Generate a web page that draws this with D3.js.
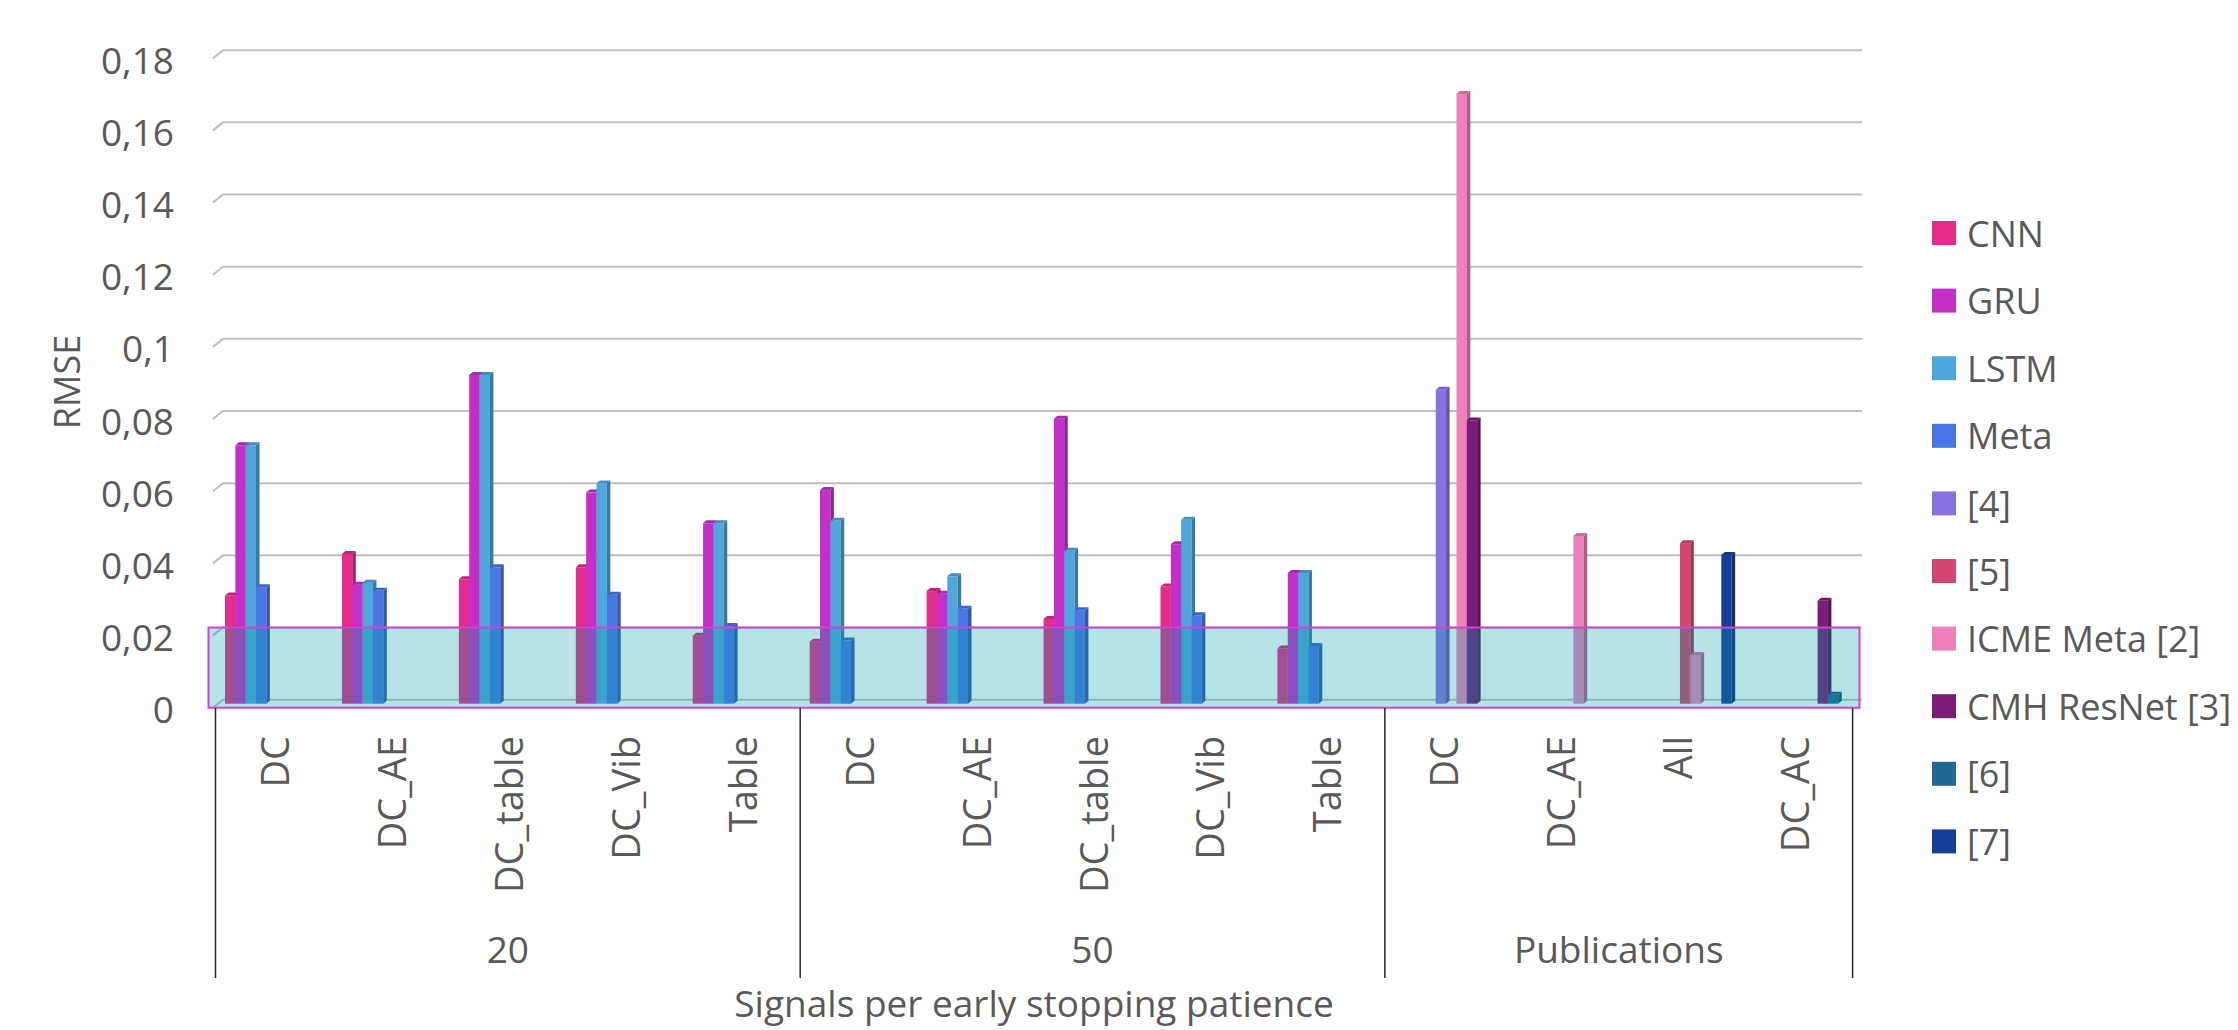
<!DOCTYPE html>
<html>
<head>
<meta charset="utf-8">
<script src="https://cdn.jsdelivr.net/npm/d3@7"></script>
<style>
  html, body { margin: 0; padding: 0; background: #fff; }
  svg text { font-family: "Open Sans", "Noto Sans", sans-serif; fill: #595959; }
</style>
</head>
<body>
<svg id="chart" width="2238" height="1030"></svg>
<script>
// ---- data ----
const groups = ["20", "50", "Publications"];
const groupSizes = [5, 5, 4];
const categories = [
  "DC", "DC_AE", "DC_table", "DC_Vib", "Table",
  "DC", "DC_AE", "DC_table", "DC_Vib", "Table",
  "DC", "DC_AE", "All", "DC_AC"
];
const seriesNames = ["CNN", "GRU", "LSTM", "Meta", "[4]", "[5]", "ICME Meta [2]", "CMH ResNet [3]", "[6]", "[7]"];
const seriesColors = ["#E42C8C", "#C52FC9", "#4EA6DC", "#4A77E6", "#8A73E0", "#D4466F", "#EE81BA", "#7B1C78", "#1F6893", "#163C9C"];

const cnn   = [0.0300, 0.0415, 0.0345, 0.0378, 0.0188, 0.0172, 0.0312, 0.0235, 0.0325, 0.0153, null, null, null, null];
const gru   = [0.0716, 0.0330, 0.0911, 0.0585, 0.0500, 0.0592, 0.0305, 0.0790, 0.0442, 0.0362, null, null, null, null];
const lstm  = [0.0716, 0.0335, 0.0911, 0.0610, 0.0500, 0.0507, 0.0353, 0.0424, 0.0510, 0.0362, null, null, null, null];
const meta  = [0.0323, 0.0313, 0.0378, 0.0302, 0.0215, 0.0175, 0.0263, 0.0259, 0.0245, 0.0160, null, null, null, null];
const ref4  = [null, null, null, null, null, null, null, null, null, null, 0.0870, null, null, null];
const ref5  = [null, null, null, null, null, null, null, null, null, null, null, null, 0.0445, null];
const icme2 = [null, null, null, null, null, null, null, null, null, null, 0.1690, 0.0465, 0.0135, null];
const cmh3  = [null, null, null, null, null, null, null, null, null, null, 0.0785, null, null, 0.0285];
const ref6  = [null, null, null, null, null, null, null, null, null, null, null, null, null, 0.0025];
const ref7  = [null, null, null, null, null, null, null, null, null, null, null, null, 0.0412, null];
const seriesValues = [cnn, gru, lstm, meta, ref4, ref5, icme2, cmh3, ref6, ref7];

const yTicks = [0, 0.02, 0.04, 0.06, 0.08, 0.1, 0.12, 0.14, 0.16, 0.18];
const bandTop = 0.02;   // shaded reference zone 0 .. 0.02

// ---- layout ----
const svg = d3.select("#chart");
const y = d3.scaleLinear().domain([0, 0.18]).range([699.7, 50.2]);
const x0 = d3.scaleBand().domain(d3.range(categories.length)).range([215.5, 1852.6]).padding(0);
const x1 = d3.scaleBand().domain(seriesNames).range([9.5, x0.bandwidth() - 4]);
const color = d3.scaleOrdinal().domain(seriesNames).range(seriesColors);

const FLOOR_DX = 10, FLOOR_DY = 8;   // front-to-back offset of the floor
const BAR_DX = 3.5, BAR_DY = 3;      // bar depth
const BAR_SHIFT = 4;                 // bars stand slightly in front of the back wall
const fmt = v => String(v).replace(".", ",");

// gridlines on the back wall with a short floor stub
const xBackL = 223, xEnd = 1862;
const grid = svg.append("g").attr("class", "grid");
grid.selectAll("path").data(yTicks).join("path")
  .attr("d", d => `M${xBackL - FLOOR_DX},${y(d) + FLOOR_DY} L${xBackL},${y(d)} L${xEnd},${y(d)}`)
  .attr("fill", "none").attr("stroke", "#BFBFBF").attr("stroke-width", 2);

// y tick labels
svg.append("g").selectAll("text").data(yTicks).join("text")
  .attr("x", 174).attr("y", d => y(d) + 9)
  .attr("text-anchor", "end").attr("dominant-baseline", "central")
  .style("font-size", "37px").text(d => fmt(d));

// y axis title
svg.append("text")
  .attr("transform", "translate(66,382) rotate(-90)")
  .attr("text-anchor", "middle").attr("dominant-baseline", "central")
  .style("font-size", "36px").text("RMSE");

// bars (3D columns: front, side, top)
const bars = [];
seriesValues.forEach((vals, si) => vals.forEach((v, ci) => {
  if (v != null) bars.push({ ci, si, v, name: seriesNames[si] });
}));
bars.sort((a, b) => a.ci - b.ci || a.si - b.si);

const barG = svg.append("g").attr("class", "bars");
const bg = barG.selectAll("g").data(bars).join("g");
bg.each(function (d) {
  const g = d3.select(this);
  const xl = x0(d.ci) + x1(d.name), w = x1.bandwidth();
  const yt = y(d.v) + BAR_SHIFT, yb = y(0) + BAR_SHIFT;
  const c = d3.color(color(d.name));
  g.append("rect").attr("x", xl).attr("y", yt).attr("width", w).attr("height", yb - yt)
    .attr("fill", c.formatHex());
  g.append("path")
    .attr("d", `M${xl + w},${yt} L${xl + w + BAR_DX},${yt - BAR_DY} L${xl + w + BAR_DX},${yb - BAR_DY} L${xl + w},${yb}Z`)
    .attr("fill", c.darker(0.9).formatHex());
  g.append("path")
    .attr("d", `M${xl},${yt} L${xl + BAR_DX},${yt - BAR_DY} L${xl + w + BAR_DX},${yt - BAR_DY} L${xl + w},${yt}Z`)
    .attr("fill", c.darker(0.45).formatHex());
});

// translucent reference zone
svg.append("rect")
  .attr("x", 208.5).attr("y", y(bandTop))
  .attr("width", 1859.5 - 208.5).attr("height", y(0) + FLOOR_DY - y(bandTop))
  .attr("fill", "rgb(0,159,169)").attr("fill-opacity", 0.29)
  .attr("stroke", "#D145D1").attr("stroke-width", 2);

// category labels
svg.append("g").selectAll("text").data(categories).join("text")
  .attr("transform", (d, i) => `translate(${x0(i) + x0.bandwidth() / 2},736) rotate(-90)`)
  .attr("text-anchor", "end").attr("dominant-baseline", "central")
  .style("font-size", "38px").text(d => d);

// group separators and group labels
const starts = [0];
groupSizes.forEach((n, i) => starts.push(starts[i] + n));
const edgeX = i => i < categories.length ? x0(i) : x0(categories.length - 1) + x0.bandwidth();
svg.append("g").selectAll("line").data(starts).join("line")
  .attr("x1", d => edgeX(d)).attr("x2", d => edgeX(d))
  .attr("y1", 708).attr("y2", 978)
  .attr("stroke", "#262626").attr("stroke-width", 1.5);
svg.append("g").selectAll("text").data(groups).join("text")
  .attr("x", (d, i) => (edgeX(starts[i]) + edgeX(starts[i + 1])) / 2)
  .attr("y", 963).attr("text-anchor", "middle")
  .style("font-size", "37px").text(d => d);

// x axis title
svg.append("text")
  .attr("x", (edgeX(0) + edgeX(categories.length)) / 2).attr("y", 1017)
  .attr("text-anchor", "middle").style("font-size", "37px")
  .text("Signals per early stopping patience");

// legend
const lg = svg.append("g").selectAll("g").data(seriesNames).join("g")
  .attr("transform", (d, i) => `translate(1932,${233 + i * 67.6})`);
lg.append("rect").attr("x", 0).attr("y", -12).attr("width", 24).attr("height", 24)
  .attr("fill", d => color(d));
lg.append("text").attr("x", 35).attr("y", 0).attr("dominant-baseline", "central")
  .style("font-size", "36px").text(d => d);
</script>
</body>
</html>
